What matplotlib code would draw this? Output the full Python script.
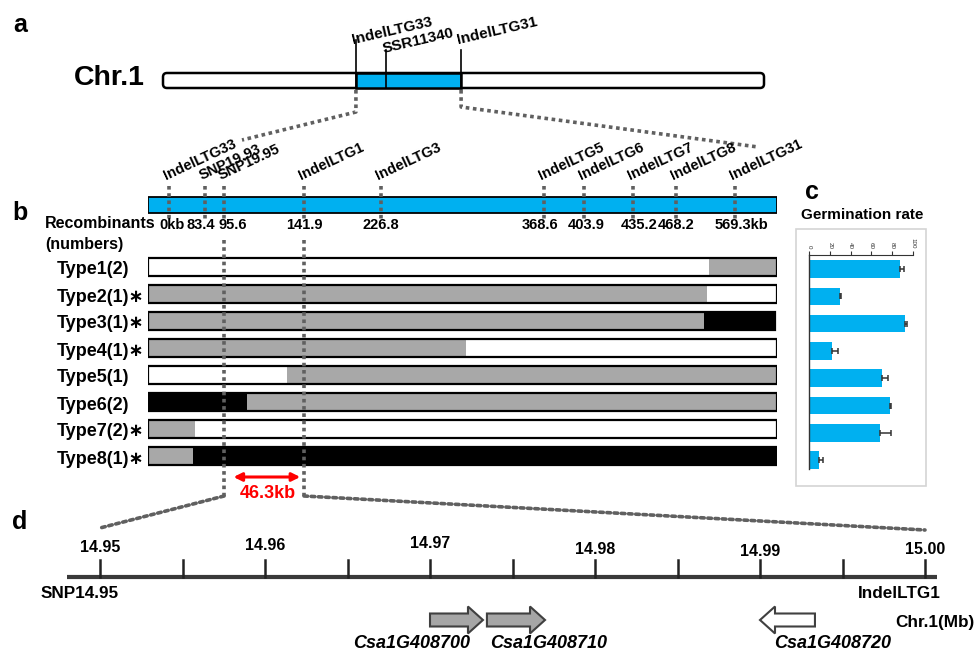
import matplotlib
matplotlib.use("Agg")
import matplotlib.pyplot as plt
from matplotlib.patches import FancyBboxPatch, Rectangle, Polygon, ConnectionPatch

plt.rcParams['font.family'] = ['Liberation Sans', 'DejaVu Sans']
plt.rcParams['font.weight'] = 'bold'

# ---------------- data ----------------
# panel a : markers on chromosome 1 (schematic fraction of the chromosome drawing)
chr_markers = ["IndelLTG33", "SSR11340", "IndelLTG31"]
chr_marker_frac = [0.321, 0.371, 0.496]

# panel b : fine-mapping markers (schematic % of the bar) and physical positions
fine_markers = ["IndelLTG33", "SNP19.93", "SNP19.95", "IndelLTG1", "IndelLTG3",
                "IndelLTG5", "IndelLTG6", "IndelLTG7", "IndelLTG8", "IndelLTG31"]
fine_kb = [0, 83.4, 95.6, 141.9, 226.8, 368.6, 403.9, 435.2, 468.2, 569.3]
fine_kb_labels = ["0kb", "83.4", "95.6", "141.9", "226.8",
                  "368.6", "403.9", "435.2", "468.2", "569.3kb"]
fine_marker_pos = [3.3, 9.1, 12.1, 24.8, 37.0, 63.0, 69.3, 77.1, 83.9, 93.3]
fine_label_pos = [3.8, 8.4, 13.5, 24.8, 37.0, 62.3, 69.6, 78.1, 83.9, 94.3]

# recombinant types: genotype left / right of a breakpoint (schematic %)
type_names = ["Type1", "Type2", "Type3", "Type4", "Type5", "Type6", "Type7", "Type8"]
type_counts = [2, 1, 1, 1, 1, 2, 2, 1]
type_star = [False, True, True, True, False, False, True, True]
type_break = [89.2, 88.9, 88.4, 50.6, 22.1, 15.7, 7.5, 7.2]
type_left = ["w", "g", "g", "g", "w", "b", "g", "g"]
type_right = ["g", "w", "b", "w", "g", "g", "w", "b"]
type_end = [100, 100, 99.7, 100, 100, 100, 100, 100]

# panel c : germination rate (%)
germ_rate = [87.2, 30.0, 92.3, 21.8, 70.5, 77.6, 68.3, 9.3]
germ_err = [4.0, 1.0, 1.6, 5.8, 5.5, 1.3, 10.3, 4.5]
germ_ticks = [0, 20, 40, 60, 80, 100]

# panel d : physical map (Mb)
d_major = [14.95, 14.96, 14.97, 14.98, 14.99, 15.00]
d_major_labels = ["14.95", "14.96", "14.97", "14.98", "14.99", "15.00"]
d_minor = [14.955, 14.965, 14.975, 14.985, 14.995]
d_range = [14.948, 15.000727]
genes = ["Csa1G408700", "Csa1G408710", "Csa1G408720"]
gene_start = [14.9700, 14.97345, 14.99333]
gene_end = [14.97321, 14.97697, 14.9900]
gene_label_x = [14.9689, 14.9772, 14.9944]
gene_fill = ["#a6a6a6", "#a6a6a6", "white"]

# ---------------- style ----------------
W, H = 978, 658
BLUE = "#00b0f0"
GRAY = "#a8a8a8"
DOT = "#606060"
geno_col = {"w": "white", "g": GRAY, "b": "black"}
dot_style = dict(color=DOT, lw=2.6, ls=(0, (1, 1)))

fig = plt.figure(figsize=(W / 100, H / 100), dpi=100)
ax = fig.add_axes([0, 0, 1, 1])
ax.set_xlim(0, W)
ax.set_ylim(H, 0)
ax.axis("off")

def newax(x0, x1, xlim):
    a = fig.add_axes([x0 / W, 0, (x1 - x0) / W, 1])
    a.set_xlim(*xlim)
    a.set_ylim(H, 0)
    a.axis("off")
    a.patch.set_visible(False)
    return a

# ---------------- panel letters ----------------
for lab, x, y in [("a", 20, 25), ("b", 20, 213), ("c", 812, 192), ("d", 20, 522)]:
    ax.text(x, y, lab, fontsize=18, fontweight="bold", ha="center", va="center")

# ---------------- panel a ----------------
cx0, cx1, cy0, cy1 = 163, 764, 73, 88
cpx = [cx0 + f * (cx1 - cx0) for f in chr_marker_frac]
ax.add_patch(FancyBboxPatch((cx0, cy0), cx1 - cx0, cy1 - cy0,
                            boxstyle="round,pad=0,rounding_size=4",
                            fc="white", ec="black", lw=1.8, zorder=2))
ax.add_patch(Rectangle((cpx[0], cy0), cpx[-1] - cpx[0], cy1 - cy0,
                       fc=BLUE, ec="black", lw=1.8, zorder=3))
ax.text(74, 78, "Chr.1", fontsize=20.5, fontweight="bold", ha="left", va="center")
top_a = [40, 50, 50]
text_a = [47, 56, 47]
for name, x, yt, ty in zip(chr_markers, cpx, top_a, text_a):
    ax.plot([x, x], [yt, cy1], color="black", lw=1.2, zorder=4)
    ax.text(x - 2, ty, name, fontsize=11, fontweight="bold", rotation=13,
            rotation_mode="anchor", ha="left", va="bottom")
# zoom lines a -> b
ax.plot([cpx[0], cpx[0], 242], [cy1 + 2, 112, 140], **dot_style)
ax.plot([cpx[-1], cpx[-1], 758], [cy1 + 2, 107, 147], **dot_style)

# ---------------- panel b ----------------
axb = newax(148, 777, (0, 100))
axb.add_patch(Rectangle((0, 197), 100, 16, fc=BLUE, ec="black", lw=1.3, zorder=2))
for name, p, lp, lab in zip(fine_markers, fine_marker_pos, fine_label_pos, fine_kb_labels):
    axb.plot([p, p], [186, 220], zorder=3, **dot_style)
    axb.text(p - 0.3, 183, name, fontsize=10.5, fontweight="bold", rotation=25,
             rotation_mode="anchor", ha="left", va="bottom")
    axb.text(lp, 225, lab, fontsize=10.5, fontweight="bold", ha="center", va="center")

ax.text(45, 224, "Recombinants", fontsize=11.5, fontweight="bold", ha="left", va="center")
ax.text(45, 244, "(numbers)", fontsize=11.5, fontweight="bold", ha="left", va="center")

row_y0, row_step, row_h = 267, 27, 17.5
for i, (nm, n, st, bp, gl, gr, ed) in enumerate(zip(type_names, type_counts, type_star,
                                                    type_break, type_left, type_right, type_end)):
    yc = row_y0 + i * row_step
    axb.add_patch(Rectangle((0, yc - row_h / 2), bp, row_h, fc=geno_col[gl], ec="none", zorder=2))
    axb.add_patch(Rectangle((bp, yc - row_h / 2), ed - bp, row_h, fc=geno_col[gr], ec="none", zorder=2))
    axb.add_patch(Rectangle((0, yc - row_h / 2), ed, row_h, fc="none", ec="black", lw=1.6, zorder=3))
    ax.text(57, yc + 3, f"{nm}({n})" + ("\u2217" if st else ""), fontsize=13,
            fontweight="bold", ha="left", va="center")

# interval lines (SNP19.95 and IndelLTG1)
i0, i1 = 2, 3
for idx in (i0, i1):
    axb.plot([fine_marker_pos[idx]] * 2, [240, 496], zorder=5, **dot_style)
axb.annotate("", xy=(fine_marker_pos[i0] + 1.5, 477), xytext=(fine_marker_pos[i1] - 0.6, 477),
             arrowprops=dict(arrowstyle="<|-|>", color="red", lw=2.2,
                             mutation_scale=12, shrinkA=0, shrinkB=0))
axb.text((fine_marker_pos[i0] + fine_marker_pos[i1]) / 2 + 0.6, 493,
         f"{fine_kb[i1] - fine_kb[i0]:.1f}kb", color="red", fontsize=13,
         fontweight="bold", ha="center", va="center")

# ---------------- panel d ----------------
axd = newax(67, 937, d_range)
axd.plot(d_range, [577, 577], color="#3a3a3a", lw=3, solid_capstyle="butt")
label_y = [547, 545, 543, 550, 552, 550]
for t, lab, ly in zip(d_major, d_major_labels, label_y):
    axd.plot([t, t], [560, 577], color="#222222", lw=1.8)
    axd.text(t, ly, lab, fontsize=11.5, fontweight="bold", ha="center", va="center")
for t in d_minor:
    axd.plot([t, t], [560, 577], color="#222222", lw=1.8)
axd.text(d_range[0] - 0.0016, 593, "SNP14.95", fontsize=12.3, fontweight="bold",
         ha="left", va="center")
axd.text(d_range[1] + 0.0002, 593, "IndelLTG1", fontsize=12.3, fontweight="bold",
         ha="right", va="center")
ax.text(975, 622, "Chr.1(Mb)", fontsize=12.3, fontweight="bold", ha="right", va="center")

gy, bh, hh = 620, 13, 27
hl = 15 / 16500.0
for g, s, e, fc, lx in zip(genes, gene_start, gene_end, gene_fill, gene_label_x):
    d = 1 if e > s else -1
    hb = e - d * hl
    pts = [(s, gy - bh / 2), (hb, gy - bh / 2), (hb, gy - hh / 2), (e, gy),
           (hb, gy + hh / 2), (hb, gy + bh / 2), (s, gy + bh / 2)]
    axd.add_patch(Polygon(pts, closed=True, fc=fc, ec="#404040", lw=1.5))
    axd.text(lx, 644, g, fontsize=13, fontweight="bold", style="italic",
             ha="center", va="center")

# zoom lines b -> d
for idx, tgt, ty in [(i0, d_major[0], 528), (i1, d_major[-1], 530)]:
    con = ConnectionPatch(xyA=(fine_marker_pos[idx], 496), coordsA=axb.transData,
                          xyB=(tgt, ty), coordsB=axd.transData, **dot_style)
    fig.add_artist(con)

# ---------------- panel c ----------------
ax.add_patch(Rectangle((796, 229), 130, 257, fc="white", ec="#d4d4d4", lw=1.2, zorder=1))
ax.text(862, 215, "Germination rate", fontsize=11, fontweight="bold", ha="center", va="center")
cy_top, cy_bot = 255, 469
c_y0, c_step = 269, 27.3
axc = fig.add_axes([809 / W, (H - cy_bot) / H, 104 / W, (cy_bot - cy_top) / H])
axc.patch.set_visible(False)
ypos = list(range(len(germ_rate)))
axc.barh(ypos, germ_rate, height=0.64, color=BLUE, xerr=[[0] * len(germ_err), germ_err],
         error_kw=dict(ecolor="#333333", elinewidth=1.1, capsize=2, capthick=1.1))
axc.set_xlim(0, 100)
axc.set_ylim((cy_bot - c_y0) / c_step, (cy_top - c_y0) / c_step)
axc.set_xticks(germ_ticks)
axc.set_xticklabels([str(t) for t in germ_ticks], fontweight="normal")
axc.tick_params(axis="x", top=True, bottom=False, labeltop=True, labelbottom=False,
                labelsize=4.5, length=3, width=0.8, pad=1.5, labelrotation=-90, colors="#333333")
axc.set_yticks([])
for sp in ["right", "bottom"]:
    axc.spines[sp].set_visible(False)
axc.spines["left"].set_color("#333333")
axc.spines["top"].set_color("#333333")
axc.spines["left"].set_linewidth(1.0)
axc.spines["top"].set_linewidth(0.8)

fig.savefig("out.png", dpi=100)
